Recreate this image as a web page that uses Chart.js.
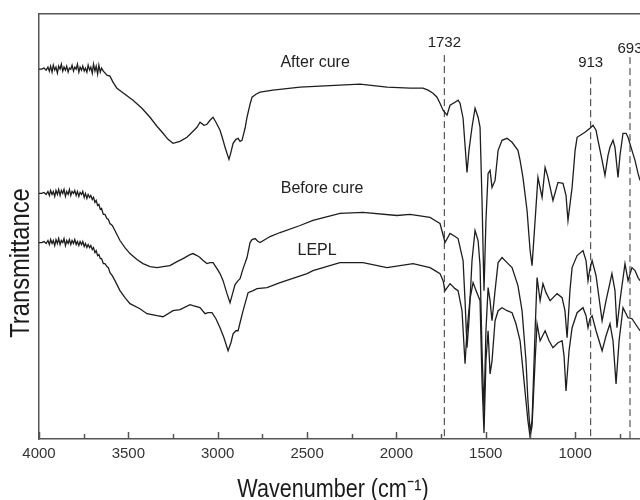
<!DOCTYPE html>
<html>
<head>
<meta charset="utf-8">
<script src="https://cdn.jsdelivr.net/npm/chart.js@4.4.1/dist/chart.umd.min.js"></script>
<style>
  html, body { margin: 0; padding: 0; background: #fff; }
  #wrap { width: 640px; height: 500px; }
</style>
</head>
<body>
<div id="wrap"><canvas id="ftir"></canvas></div>
<script>
// [wavenumber, transmittance (arbitrary)]
const afterCure = [
  [4000,369],[3985,369],[3972,370],[3960,368],[3950,371],[3942,367],[3935,372],[3927,366],[3920,373],
  [3912,368],[3905,371],[3897,365],[3890,372],[3882,369],[3875,374],[3867,367],[3860,371],[3852,368],
  [3845,372],[3837,366],[3830,370],[3822,369],[3815,373],[3807,367],[3800,371],[3792,369],[3785,374],
  [3777,366],[3770,371],[3762,368],[3755,372],[3747,367],[3740,370],[3732,366],[3725,373],[3717,368],
  [3710,371],[3702,365],[3695,374],[3687,367],[3680,372],[3672,364],[3665,373],[3657,366],[3650,370],
  [3640,367],[3620,363],[3603,362],
  [3586,356],[3564,350],[3519,344],[3474,338],[3424,330],[3379,321],[3340,312],[3306,305],[3278,299],
  [3250,295],[3211,297],[3172,301],[3138,307],[3116,311],[3099,316],[3077,313],[3060,314],[3043,318],
  [3026,321],[3010,316],[2987,308],[2970,298],[2959,291],[2937,279],[2926,286],[2914,295],[2898,299],
  [2886,300],[2875,297],[2864,298],[2847,310],[2836,321],[2819,334],[2808,341],[2786,344],[2763,346],
  [2691,348],[2539,351],[2428,352],[2316,353],[2204,354],[2053,351],[1924,350],[1851,350],[1823,348],
  [1795,345],[1773,341],[1756,335],[1739,328],[1717,323],[1700,333],[1672,336],[1655,338],[1644,335],
  [1627,320],[1616,293],[1605,266],[1594,288],[1577,311],[1560,330],[1543,321],[1532,311],[1521,238],
  [1510,148],[1499,218],[1487,265],[1476,268],[1465,251],[1448,258],[1431,288],[1409,298],[1381,300],
  [1353,296],[1320,288],[1308,278],[1292,261],[1269,228],[1252,188],[1241,173],[1224,218],[1208,261],
  [1185,241],[1168,271],[1152,261],[1124,238],[1096,256],[1068,255],[1051,243],[1040,218],[1017,251],
  [1000,288],[989,301],[945,306],[917,310],[900,313],[883,308],[872,298],[849,278],[833,263],[816,283],
  [805,291],[788,298],[777,291],[760,261],[749,283],[732,305],[715,305],[704,301],[682,288],[665,278],
  [648,265],[637,258]
];
const beforeCure = [
  [4000,245],[3985,245],[3972,246],[3960,244],[3950,247],[3942,243],[3935,248],[3927,244],[3920,247],
  [3912,242],[3905,248],[3897,244],[3890,249],[3882,243],[3875,248],[3867,245],[3860,249],[3852,242],
  [3845,247],[3837,244],[3830,249],[3822,243],[3815,247],[3807,245],[3800,248],[3792,243],[3785,247],
  [3777,242],[3770,246],[3762,244],[3755,247],[3747,241],[3740,245],[3732,240],[3725,244],[3717,241],
  [3710,243],[3702,239],[3695,241],[3687,236],[3680,238],[3672,233],[3665,234],[3657,229],[3650,230],
  [3640,224],[3631,224],[3620,220],[3612,219],[3603,215],[3590,213],
  [3575,208],[3547,198],[3519,191],[3491,185],[3452,179],[3418,175],[3379,172],[3340,171],[3306,172],
  [3267,173],[3228,177],[3194,180],[3155,184],[3138,185],[3116,183],[3099,181],[3082,178],[3060,175],
  [3043,176],[3026,176],[3004,170],[2987,165],[2970,158],[2948,145],[2931,136],[2920,143],[2903,154],
  [2886,158],[2875,160],[2858,170],[2836,181],[2819,196],[2808,199],[2791,200],[2774,197],[2763,196],
  [2707,202],[2651,206],[2539,213],[2467,218],[2316,225],[2187,226],[1997,223],[1924,224],[1812,221],
  [1784,218],[1756,215],[1728,196],[1700,205],[1672,202],[1655,200],[1627,178],[1616,138],[1605,91],
  [1594,118],[1577,178],[1560,208],[1543,198],[1532,173],[1521,88],[1510,28],[1499,108],[1487,151],
  [1476,138],[1465,118],[1448,148],[1431,176],[1409,181],[1381,176],[1353,171],[1320,153],[1297,128],
  [1275,78],[1264,38],[1252,8],[1241,18],[1224,108],[1213,161],[1196,138],[1180,155],[1163,146],
  [1140,138],[1101,145],[1073,141],[1057,128],[1045,101],[1029,148],[1017,171],[989,183],[956,188],
  [939,178],[928,158],[917,170],[905,178],[883,163],[849,118],[827,138],[794,165],[777,148],[766,111],
  [749,138],[721,175],[704,158],[682,171],[665,168],[648,161],[637,158]
];
const lepl = [
  [4000,196],[3985,196],[3972,197],[3960,195],[3950,198],[3942,194],[3935,199],[3927,195],[3920,198],
  [3912,193],[3905,199],[3897,195],[3890,200],[3882,194],[3875,198],[3867,196],[3860,200],[3852,193],
  [3845,198],[3837,195],[3830,199],[3822,194],[3815,198],[3807,195],[3800,199],[3792,194],[3785,197],
  [3777,193],[3770,197],[3762,194],[3755,197],[3747,192],[3740,195],[3732,191],[3725,194],[3717,191],
  [3710,193],[3702,189],[3695,191],[3687,186],[3680,188],[3672,183],[3665,184],[3657,180],[3650,180],
  [3640,175],[3631,175],[3620,172],[3612,171],[3603,166],[3590,163],
  [3575,158],[3547,148],[3519,141],[3491,135],[3435,130],[3396,125],[3340,123],[3306,122],[3250,128],
  [3211,129],[3155,134],[3138,133],[3099,131],[3071,125],[3054,126],[3032,126],[3010,120],[2987,111],
  [2965,101],[2942,88],[2926,96],[2914,105],[2898,108],[2886,108],[2875,116],[2858,128],[2830,146],
  [2802,148],[2780,150],[2724,151],[2651,156],[2500,165],[2467,168],[2316,176],[2187,176],[2053,171],
  [1907,175],[1812,171],[1784,168],[1756,165],[1739,158],[1728,148],[1700,155],[1672,150],[1655,148],
  [1633,128],[1616,75],[1605,108],[1588,140],[1571,156],[1554,148],[1532,138],[1521,58],[1510,6],
  [1499,78],[1487,108],[1476,65],[1465,78],[1448,118],[1431,128],[1409,131],[1381,128],[1353,126],
  [1331,115],[1308,98],[1286,58],[1264,18],[1252,2],[1241,13],[1224,78],[1213,115],[1196,98],
  [1168,108],[1146,98],[1124,91],[1096,96],[1073,98],[1062,83],[1051,48],[1034,88],[1017,111],
  [989,126],[956,131],[939,123],[928,111],[917,120],[905,123],[883,108],[849,88],[827,103],[805,115],
  [788,98],[771,55],[754,98],[732,131],[704,121],[682,120],[648,111],[637,108]
];

const curveNames = ['After cure', 'Before cure', 'LEPL'];
const curveLabelAt = [[2455, 376], [2416, 250], [2444, 188]];

const peakMarks = [1732, 913, 693];
const peakTops = [383, 361, 381];
const peakLabelY = [395, 375, 389];

const xTicks = [4000, 3500, 3000, 2500, 2000, 1500, 1000];
const xMinorTicks = [3750, 3250, 2750, 2250, 1750, 1250, 750];

const INK = '#1e1e1e';
const AXIS = '#555';
const FONT = '"Liberation Sans", Arial, sans-serif';

const peakSets = peakMarks.map((wn, i) => ({
  data: [[wn, peakTops[i]], [wn, 0]],
  borderColor: '#333',
  borderWidth: 1,
  borderDash: [7, 4],
  pointRadius: 0
}));

const extras = {
  id: 'extras',
  afterDraw(chart) {
    const { ctx, scales: { x, y }, chartArea } = chart;
    ctx.save();
    // inward tick marks
    ctx.strokeStyle = AXIS;
    ctx.lineWidth = 1.5;
    xTicks.concat(xMinorTicks).forEach(v => {
      const px = Math.round(x.getPixelForValue(v)) + 0.5;
      const len = xTicks.includes(v) ? 7 : 5;
      ctx.beginPath();
      ctx.moveTo(px, chartArea.bottom);
      ctx.lineTo(px, chartArea.bottom - len);
      ctx.stroke();
    });
    // curve names and peak labels
    ctx.fillStyle = '#222';
    ctx.textAlign = 'center';
    ctx.textBaseline = 'middle';
    ctx.font = '16px ' + FONT;
    curveNames.forEach((name, i) => {
      ctx.fillText(name, x.getPixelForValue(curveLabelAt[i][0]), y.getPixelForValue(curveLabelAt[i][1]));
    });
    ctx.font = '15px ' + FONT;
    peakMarks.forEach((wn, i) => {
      ctx.fillText(String(wn), x.getPixelForValue(wn), y.getPixelForValue(peakLabelY[i]));
    });
    // axis titles (narrow, tall lettering as in the source figure)
    ctx.fillStyle = '#1a1a1a';
    ctx.save();
    ctx.translate(22, 263);
    ctx.rotate(-Math.PI / 2);
    ctx.scale(0.88, 1);
    ctx.font = '27px ' + FONT;
    ctx.fillText('Transmittance', 0, 0);
    ctx.restore();
    ctx.save();
    ctx.translate(333, 497);
    ctx.scale(0.83, 1);
    ctx.font = '26px ' + FONT;
    ctx.textBaseline = 'alphabetic';
    ctx.fillText('Wavenumber (cm\u207B\u00B9)', 0, 0);
    ctx.restore();
    ctx.restore();
  }
};

new Chart(document.getElementById('ftir'), {
  type: 'line',
  data: {
    datasets: [
      { label: curveNames[0], data: afterCure },
      { label: curveNames[1], data: beforeCure },
      { label: curveNames[2], data: lepl },
      ...peakSets
    ].map(d => Object.assign({ borderColor: INK, borderWidth: 1.3, pointRadius: 0, tension: 0, fill: false }, d))
  },
  options: {
    responsive: true,
    maintainAspectRatio: false,
    animation: false,
    events: [],
    layout: { padding: { left: 39, top: 14, right: 0, bottom: 31 } },
    plugins: { legend: { display: false }, tooltip: { enabled: false } },
    scales: {
      x: {
        type: 'linear',
        reverse: true,
        min: 637,
        max: 4000,
        afterBuildTicks: s => { s.ticks = xTicks.map(v => ({ value: v })); },
        ticks: { color: '#333', font: { family: FONT, size: 15 }, padding: 6, maxRotation: 0, callback: v => String(v) },
        grid: { display: false, drawTicks: false },
        border: { display: true, color: AXIS, width: 1.5 }
      },
      xTop: {
        type: 'linear',
        position: 'top',
        ticks: { display: false },
        grid: { display: false, drawTicks: false },
        border: { display: true, color: AXIS, width: 1.5 }
      },
      y: {
        min: 0,
        max: 424,
        ticks: { display: false },
        grid: { display: false, drawTicks: false },
        border: { display: true, color: AXIS, width: 1.5 }
      }
    }
  },
  plugins: [extras]
});
</script>
</body>
</html>
